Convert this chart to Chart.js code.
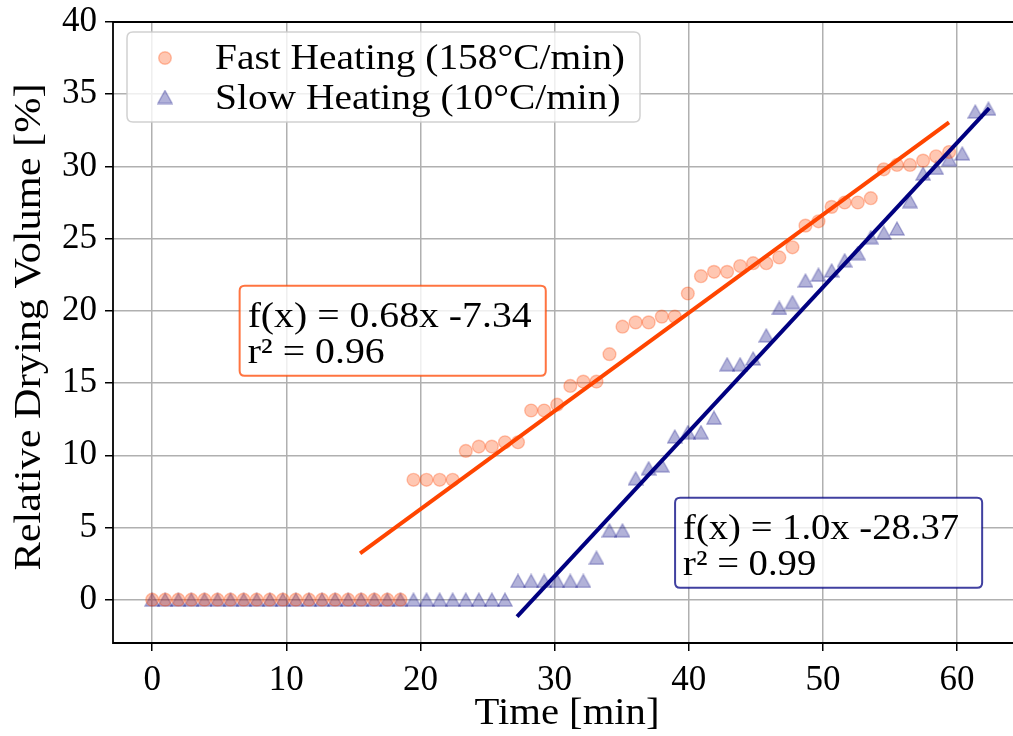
<!DOCTYPE html>
<html>
<head>
<meta charset="utf-8">
<script src="https://cdn.jsdelivr.net/npm/chart.js@4.4.0/dist/chart.umd.min.js"></script>
<style>
html,body{margin:0;padding:0;overflow:hidden;background:#fff;}
#wrap{width:1013px;height:736px;}
</style>
</head>
<body>
<div id="wrap"><canvas id="c" width="1013" height="736"></canvas></div>
<script>
// ---- data ----
const times = [0, 0.97, 1.95, 2.92, 3.90, 4.87, 5.84, 6.82, 7.79, 8.77,
  9.74, 10.71, 11.69, 12.66, 13.64, 14.61, 15.58, 16.56, 17.53, 18.51,
  19.48, 20.45, 21.43, 22.40, 23.38, 24.35, 25.32, 26.30, 27.27, 28.25,
  29.22, 30.19, 31.17, 32.14, 33.12, 34.09, 35.06, 36.04, 37.01, 37.99,
  38.96, 39.93, 40.91, 41.88, 42.86, 43.83, 44.80, 45.78, 46.75, 47.73,
  48.70, 49.67, 50.65, 51.62, 52.60, 53.57, 54.54, 55.52, 56.49, 57.47,
  58.44, 59.41, 60.39, 61.36, 62.34];

const fastVolume = [0, 0, 0, 0, 0, 0, 0, 0, 0, 0,
  0, 0, 0, 0, 0, 0, 0, 0, 0, 0,
  8.3, 8.3, 8.3, 8.3, 10.3, 10.6, 10.6, 10.9, 10.9, 13.1,
  13.1, 13.5, 14.8, 15.1, 15.1, 17.0, 18.9, 19.2, 19.2, 19.6,
  19.6, 21.2, 22.4, 22.7, 22.7, 23.1, 23.3, 23.3, 23.7, 24.4,
  25.9, 26.2, 27.2, 27.5, 27.5, 27.8, 29.8, 30.1, 30.1, 30.4,
  30.7, 31.0];

const slowVolume = [0, 0, 0, 0, 0, 0, 0, 0, 0, 0,
  0, 0, 0, 0, 0, 0, 0, 0, 0, 0,
  0, 0, 0, 0, 0, 0, 0, 0, 1.3, 1.3,
  1.3, 1.3, 1.3, 1.3, 2.9, 4.8, 4.8, 8.4, 9.1, 9.3,
  11.3, 11.6, 11.6, 12.6, 16.3, 16.3, 16.7, 18.3, 20.2, 20.6,
  22.1, 22.5, 22.8, 23.5, 24.0, 25.1, 25.4, 25.7, 27.6, 29.5,
  29.9, 30.5, 30.9, 33.8, 34.0];

const fitFastX = [15.5, 59.4];
const fitFastY = [3.2, 33.05];
const fitSlowX = [27.2, 62.4];
const fitSlowY = [-1.17, 34.03];

const xTicks = [0, 10, 20, 30, 40, 50, 60];
const yTicks = [0, 5, 10, 15, 20, 25, 30, 35, 40];

const seriesLabels = ['Fast Heating (158°C/min)', 'Slow Heating (10°C/min)'];
const fitFastText = ['f(x) = 0.68x -7.34', 'r² = 0.96'];
const fitSlowText = ['f(x) = 1.0x -28.37', 'r² = 0.99'];
const xTitle = 'Time [min]';
const yTitle = 'Relative Drying Volume [%]';

// ---- styling ----
const FONT = '"Liberation Serif", "Times New Roman", serif';
const FS = 35;
const fastFill = 'rgba(255,69,0,0.3)';
const slowFill = 'rgba(0,0,128,0.3)';

function makeTriangle() {
  const c = document.createElement('canvas');
  c.width = 16; c.height = 15;
  const g = c.getContext('2d');
  g.beginPath();
  g.moveTo(8, 1);
  g.lineTo(15.2, 14);
  g.lineTo(0.8, 14);
  g.closePath();
  g.fillStyle = slowFill;
  g.fill();
  g.lineWidth = 1.4;
  g.strokeStyle = slowFill;
  g.stroke();
  return c;
}
const tri = makeTriangle();

const fastPts = fastVolume.map((v, i) => ({x: times[i], y: v}));
const slowPts = slowVolume.map((v, i) => ({x: times[i], y: v}));
const fastFit = fitFastX.map((v, i) => ({x: v, y: fitFastY[i]}));
const slowFit = fitSlowX.map((v, i) => ({x: v, y: fitSlowY[i]}));

function rrect(ctx, x, y, w, h, r) {
  ctx.beginPath();
  ctx.moveTo(x + r, y);
  ctx.lineTo(x + w - r, y);
  ctx.quadraticCurveTo(x + w, y, x + w, y + r);
  ctx.lineTo(x + w, y + h - r);
  ctx.quadraticCurveTo(x + w, y + h, x + w - r, y + h);
  ctx.lineTo(x + r, y + h);
  ctx.quadraticCurveTo(x, y + h, x, y + h - r);
  ctx.lineTo(x, y + r);
  ctx.quadraticCurveTo(x, y, x + r, y);
  ctx.closePath();
}

// text widened horizontally to the wider serif face of the original
function wideText(ctx, text, x, y, size, sx, align, rot) {
  ctx.save();
  ctx.font = size + 'px ' + FONT;
  ctx.fillStyle = '#000';
  ctx.textAlign = align;
  ctx.textBaseline = 'alphabetic';
  ctx.translate(x, y);
  if (rot) ctx.rotate(rot);
  ctx.scale(sx, 1);
  ctx.fillText(text, 0, 0);
  ctx.restore();
}
function factor(ctx, text, size, target) {
  ctx.save();
  ctx.font = size + 'px ' + FONT;
  const w = ctx.measureText(text).width;
  ctx.restore();
  return target / w;
}
function noPad(s) {
  s.paddingTop = 0; s.paddingBottom = 0; s.paddingLeft = 0; s.paddingRight = 0;
}

const overlay = {
  id: 'overlay',
  afterDatasetsDraw(chart) {
    const ctx = chart.ctx;
    const {left, top, right, bottom} = chart.chartArea;
    const xs = chart.scales.x, ys = chart.scales.y;
    ctx.save();
    // frame (right spine lies beyond the picture)
    ctx.strokeStyle = '#000';
    ctx.lineWidth = 1.8;
    ctx.beginPath();
    ctx.moveTo(right + 2, top);
    ctx.lineTo(left, top);
    ctx.lineTo(left, bottom);
    ctx.lineTo(right + 2, bottom);
    ctx.stroke();

    // legend
    rrect(ctx, 127, 32, 513, 90, 6);
    ctx.fillStyle = 'rgba(255,255,255,0.8)';
    ctx.fill();
    ctx.strokeStyle = 'rgba(204,204,204,0.9)';
    ctx.lineWidth = 1.5;
    ctx.stroke();
    ctx.beginPath();
    ctx.arc(165, 58, 6.3, 0, Math.PI * 2);
    ctx.fillStyle = fastFill;
    ctx.fill();
    ctx.lineWidth = 1.4;
    ctx.strokeStyle = fastFill;
    ctx.stroke();
    ctx.drawImage(tri, 165 - tri.width / 2, 97 - tri.height / 2);
    const lf = factor(ctx, seriesLabels[0], 36, 410);
    wideText(ctx, seriesLabels[0], 215, 69, 36, lf, 'left');
    wideText(ctx, seriesLabels[1], 215, 109, 36, lf, 'left');

    // fit annotation boxes (anchored in data coordinates)
    function box(x0, y0, x1, y1, col, lines, target) {
      const px0 = xs.getPixelForValue(x0), py0 = ys.getPixelForValue(y0);
      const px1 = xs.getPixelForValue(x1), py1 = ys.getPixelForValue(y1);
      rrect(ctx, px0, py0, px1 - px0, py1 - py0, 5);
      ctx.fillStyle = 'rgba(255,255,255,0.8)';
      ctx.fill();
      ctx.strokeStyle = col;
      ctx.lineWidth = 2;
      ctx.stroke();
      const f = factor(ctx, lines[0], 36, target);
      wideText(ctx, lines[0], px0 + 8, py0 + 41, 36, f, 'left');
      wideText(ctx, lines[1], px0 + 8, py0 + 77, 36, f, 'left');
    }
    box(6.52, 21.73, 29.34, 15.5, 'rgba(255,69,0,0.75)', fitFastText, 284);
    box(38.98, 7.06, 61.87, 0.83, 'rgba(0,0,128,0.75)', fitSlowText, 276);

    // axis titles
    const xf = factor(ctx, xTitle, 37, 185);
    wideText(ctx, xTitle, 567, 724, 37, xf, 'center');
    const yf = factor(ctx, yTitle, 37, 487);
    wideText(ctx, yTitle, 40, 327, 37, yf, 'center', -Math.PI / 2);
    ctx.restore();
  }
};

new Chart(document.getElementById('c').getContext('2d'), {
  type: 'scatter',
  data: {
    datasets: [
      {label: seriesLabels[0], data: fastPts, pointStyle: 'circle', pointRadius: 6.4,
       pointBorderWidth: 1.4, backgroundColor: fastFill, borderColor: fastFill, order: 2},
      {label: seriesLabels[1], data: slowPts, pointStyle: tri, pointRadius: 7.5,
       backgroundColor: slowFill, borderColor: slowFill, order: 2},
      {label: 'fit fast', data: fastFit, showLine: true, borderColor: '#FF4500', borderWidth: 4,
       pointRadius: 0, fill: false, order: 1},
      {label: 'fit slow', data: slowFit, showLine: true, borderColor: '#000080', borderWidth: 4,
       pointRadius: 0, fill: false, order: 1}
    ]
  },
  options: {
    responsive: false,
    animation: false,
    devicePixelRatio: 1,
    layout: {autoPadding: false, padding: {top: 22, right: 0, left: 0, bottom: 0}},
    plugins: {legend: {display: false}, tooltip: {enabled: false}},
    scales: {
      x: {
        type: 'linear', min: -2.92, max: 64.17,
        afterBuildTicks: s => { s.ticks = xTicks.map(v => ({value: v})); },
        afterFit: s => { s.height = 93; noPad(s); },
        grid: {color: '#b0b0b0', lineWidth: 1.5, tickColor: '#000', tickLength: 8, tickWidth: 1.5},
        border: {display: false},
        ticks: {color: '#000', font: {family: FONT, size: FS}, padding: 9, maxRotation: 0, autoSkip: false},
        title: {display: false}
      },
      y: {
        type: 'linear', min: -3, max: 40,
        afterBuildTicks: s => { s.ticks = yTicks.map(v => ({value: v})); },
        afterFit: s => { s.width = 113; noPad(s); },
        grid: {color: '#b0b0b0', lineWidth: 1.5, tickColor: '#000', tickLength: 8, tickWidth: 1.5},
        border: {display: false},
        ticks: {color: '#000', font: {family: FONT, size: FS}, padding: 8, autoSkip: false},
        title: {display: false}
      }
    }
  },
  plugins: [overlay]
});
</script>
</body>
</html>
